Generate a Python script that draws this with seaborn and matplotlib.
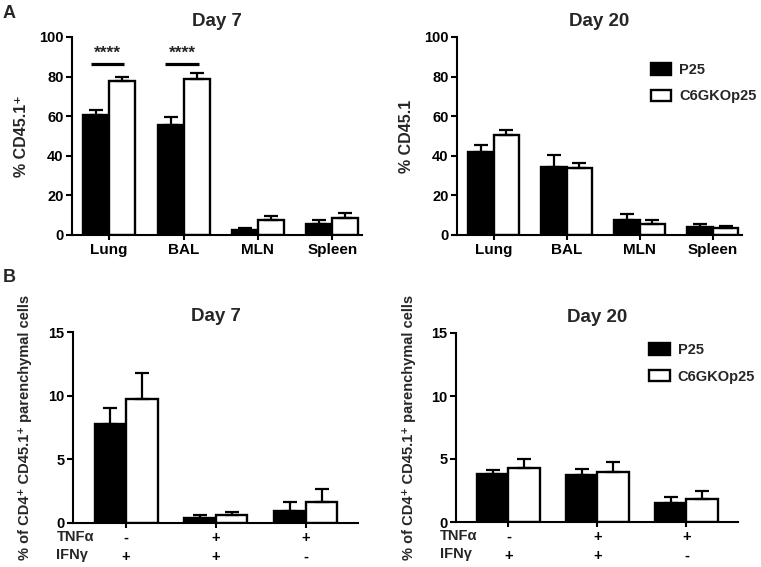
import matplotlib
matplotlib.use('Agg')
import matplotlib.pyplot as plt
import seaborn as sns
import pandas as pd

# data
groups = ['P25', 'C6GKOp25']
tissues = ['Lung', 'BAL', 'MLN', 'Spleen']

p25_d7 = [60.8, 55.7, 2.4, 5.7]
p25_d7_err = [2.5, 3.7, 1.0, 1.7]
c6_d7 = [77.6, 79.0, 7.4, 8.6]
c6_d7_err = [2.4, 3.0, 2.4, 2.5]

p25_d20 = [41.8, 34.2, 7.7, 3.9]
p25_d20_err = [3.8, 6.0, 3.1, 1.7]
c6_d20 = [50.7, 33.7, 5.7, 3.5]
c6_d20_err = [2.2, 2.7, 1.7, 1.2]

cyto = ['TNF- IFN+', 'TNF+ IFN+', 'TNF+ IFN-']
tnf_signs = ['-', '+', '+']
ifn_signs = ['+', '+', '-']

p25_cyt_d7 = [7.75, 0.39, 0.97]
p25_cyt_d7_err = [1.25, 0.21, 0.66]
c6_cyt_d7 = [9.75, 0.66, 1.65]
c6_cyt_d7_err = [2.05, 0.21, 1.0]

p25_cyt_d20 = [3.8, 3.74, 1.54]
p25_cyt_d20_err = [0.3, 0.46, 0.46]
c6_cyt_d20 = [4.27, 3.93, 1.86]
c6_cyt_d20_err = [0.73, 0.82, 0.64]

sns.set_style('ticks')
plt.rcParams['font.family'] = ['Liberation Sans', 'DejaVu Sans']
plt.rcParams['font.weight'] = 'bold'
plt.rcParams['axes.linewidth'] = 1.5
plt.rcParams['xtick.major.width'] = 1.5
plt.rcParams['ytick.major.width'] = 1.5
plt.rcParams['xtick.major.size'] = 3.5
plt.rcParams['ytick.major.size'] = 4
plt.rcParams['xtick.major.pad'] = 2
plt.rcParams['ytick.major.pad'] = 2
plt.rcParams['xtick.color'] = 'black'
plt.rcParams['ytick.color'] = 'black'
plt.rcParams['axes.edgecolor'] = 'black'

pal = {'P25': 'black', 'C6GKOp25': 'white'}


def draw(ax, cats, p25, p25_err, c6, c6_err, title, legend_at=None):
    df = pd.DataFrame({
        'cat': cats * 2,
        'group': ['P25'] * len(cats) + ['C6GKOp25'] * len(cats),
        'value': p25 + c6,
    })
    sns.barplot(data=df, x='cat', y='value', hue='group', order=cats, hue_order=groups,
                palette=pal, width=0.7, gap=0, edgecolor='black', linewidth=1.7,
                errorbar=None, ax=ax, legend=legend_at is not None, saturation=1)
    for cont, errs in zip(ax.containers, [p25_err, c6_err]):
        for bar, e in zip(cont, errs):
            xc = bar.get_x() + bar.get_width() / 2
            ax.errorbar(xc, bar.get_height(), yerr=[[0], [e]], color='black',
                        elinewidth=1.6, capsize=5, capthick=1.6, zorder=1)
    ax.set_title(title, fontsize=13.5, fontweight='bold', pad=8)
    ax.set_xlabel('')
    sns.despine(ax=ax)
    if legend_at is not None:
        sns.move_legend(ax, 'upper left', bbox_to_anchor=legend_at, frameon=False,
                        title=None, fontsize=10.5, handlelength=1.4, handleheight=0.85,
                        labelspacing=0.85, handletextpad=0.55, borderpad=0)


fig = plt.figure(figsize=(7.61, 5.67), dpi=100)
W, H = 761, 567
axA1 = fig.add_axes([72 / W, 1 - 235 / H, 290 / W, 198 / H])
axA2 = fig.add_axes([457 / W, 1 - 235 / H, 285 / W, 198 / H])
axB1 = fig.add_axes([73 / W, 1 - 523 / H, 285 / W, 191 / H])
axB2 = fig.add_axes([456 / W, 1 - 522 / H, 282 / W, 189 / H])

draw(axA1, tissues, p25_d7, p25_d7_err, c6_d7, c6_d7_err, 'Day 7')
draw(axA2, tissues, p25_d20, p25_d20_err, c6_d20, c6_d20_err, 'Day 20', (0.655, 0.905))
draw(axB1, cyto, p25_cyt_d7, p25_cyt_d7_err, c6_cyt_d7, c6_cyt_d7_err, 'Day 7')
draw(axB2, cyto, p25_cyt_d20, p25_cyt_d20_err, c6_cyt_d20, c6_cyt_d20_err, 'Day 20',
     (0.66, 0.985))

for ax, lab in [(axA1, '% CD45.1\u207a'), (axA2, '% CD45.1')]:
    ax.set_ylim(0, 100)
    ax.set_yticks([0, 20, 40, 60, 80, 100])
    ax.set_xlim(-0.5, 3.4)
    ax.set_ylabel(lab, fontsize=11.5, fontweight='bold')
    ax.yaxis.set_label_coords(-0.15, 0.5)
    ax.tick_params(labelsize=10.5)
    ax.tick_params(axis='x', labelsize=11)

# significance bars on day 7
for i in [0, 1]:
    b0 = axA1.containers[0][i]
    b1 = axA1.containers[1][i]
    x0 = b0.get_x() + b0.get_width() / 2 - 0.07
    x1 = b1.get_x() + b1.get_width() / 2 + 0.03
    axA1.plot([x0, x1], [86.5, 86.5], color='black', lw=2.3, solid_capstyle='butt')
    axA1.text((x0 + x1) / 2, 88, '****', ha='center', va='bottom', fontsize=12.5,
              fontweight='bold')

for ax in [axB1, axB2]:
    ax.set_ylim(0, 15)
    ax.set_yticks([0, 5, 10, 15])
    ax.set_xlim(-0.59, 2.58)
    ax.set_xticks(range(len(cyto)))
    ax.set_xticklabels([t + '\n' + f for t, f in zip(tnf_signs, ifn_signs)],
                       linespacing=1.45)
    ax.tick_params(labelsize=10.5)
    ax.set_ylabel('% of CD4\u207a CD45.1\u207a parenchymal cells', fontsize=10.5,
                  fontweight='bold')
    ax.yaxis.set_label_coords(-0.143, 0.5)
    ax.text(-0.058, -0.037, 'TNF\u03b1\nIFN\u03b3', transform=ax.transAxes, ha='left',
            va='top', fontsize=10.5, fontweight='bold', linespacing=1.4)

fig.text(3 / W, 1 - 5 / H, 'A', fontsize=13, fontweight='bold', va='top')
fig.text(3 / W, 1 - 269 / H, 'B', fontsize=13, fontweight='bold', va='top')

fig.savefig('out.png', dpi=100)
